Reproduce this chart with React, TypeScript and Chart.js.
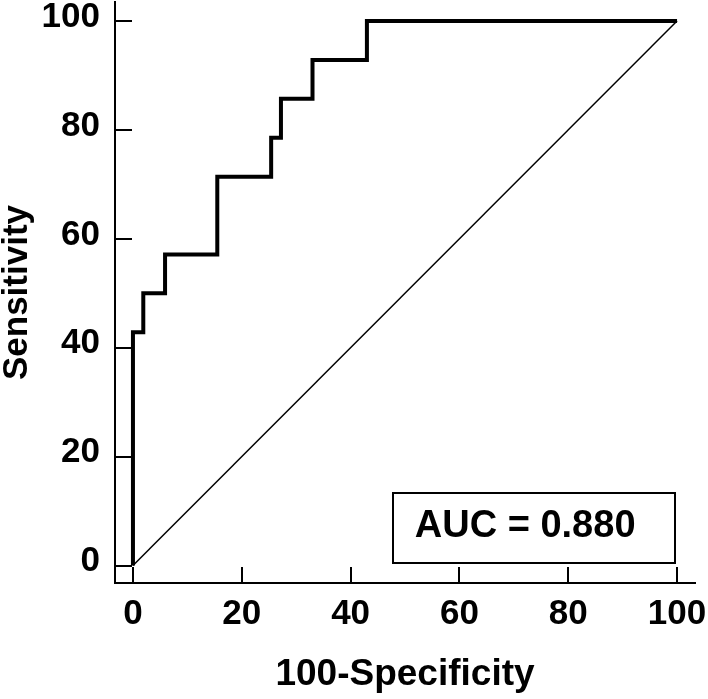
import React, { useEffect, useRef } from 'react';
import { Chart, registerables } from 'chart.js';

Chart.register(...registerables);

// ROC operating points (100-Specificity, Sensitivity)
const rocFpr = [0, 0, 1.9, 5.9, 15.5, 25.4, 27.2, 33.0, 43.0, 100];
const rocSens = [0, 42.86, 50, 57.14, 71.43, 78.57, 85.71, 92.86, 100, 100];
// reference (chance) line
const refFpr = [0, 100];
const refSens = [0, 100];
const tickValues = [0, 20, 40, 60, 80, 100];
const xTitle = '100-Specificity';
const yTitle = 'Sensitivity';
const aucLabel = 'AUC = 0.880';

const FAMILY = "'Liberation Sans', Arial, Helvetica, sans-serif";

const innerTicks = {
  id: 'innerTicks',
  beforeDatasetsDraw(chart: any) {
    const { ctx, scales, chartArea } = chart;
    ctx.save();
    ctx.strokeStyle = '#000';
    ctx.lineWidth = 2;
    ctx.lineCap = 'butt';
    ctx.beginPath();
    tickValues.forEach((v) => {
      const px = Math.round(scales.x.getPixelForValue(v));
      ctx.moveTo(px, chartArea.bottom);
      ctx.lineTo(px, chartArea.bottom - 16);
      const py = Math.round(scales.y.getPixelForValue(v));
      ctx.moveTo(chartArea.left, py);
      ctx.lineTo(chartArea.left + 17, py);
    });
    ctx.stroke();
    ctx.restore();
  },
};

const aucBoxPlugin = {
  id: 'aucBox',
  afterDatasetsDraw(chart: any, _args: any, opts: any) {
    const { ctx, scales } = chart;
    const x1 = Math.round(scales.x.getPixelForValue(opts.x0));
    const x2 = Math.round(scales.x.getPixelForValue(opts.x1));
    const y1 = Math.round(scales.y.getPixelForValue(opts.y1));
    const y2 = Math.round(scales.y.getPixelForValue(opts.y0));
    ctx.save();
    ctx.fillStyle = '#fff';
    ctx.fillRect(x1, y1, x2 - x1, y2 - y1);
    ctx.strokeStyle = '#000';
    ctx.lineWidth = 2;
    ctx.strokeRect(x1, y1, x2 - x1, y2 - y1);
    ctx.fillStyle = '#000';
    ctx.font = `bold ${opts.size}px ${FAMILY}`;
    ctx.textAlign = 'left';
    ctx.textBaseline = 'alphabetic';
    ctx.fillText(opts.text, scales.x.getPixelForValue(opts.tx), scales.y.getPixelForValue(opts.ty));
    ctx.restore();
  },
};

const noPad = (s: any) => {
  s.paddingLeft = 0;
  s.paddingRight = 0;
  s.paddingTop = 0;
  s.paddingBottom = 0;
};

export default function App() {
  const canvasRef = useRef<HTMLCanvasElement | null>(null);

  useEffect(() => {
    if (!canvasRef.current) return;
    const rocData = rocFpr.map((x, i) => ({ x, y: rocSens[i] }));
    const refData = refFpr.map((x, i) => ({ x, y: refSens[i] }));
    const tickFont = { family: FAMILY, size: 35, weight: 'bold' as const };
    const chart = new Chart(canvasRef.current, {
      type: 'line',
      data: {
        datasets: [
          {
            label: 'Reference',
            data: refData,
            borderColor: '#000',
            borderWidth: 1.5,
            pointRadius: 0,
            fill: false,
            tension: 0,
          },
          {
            label: 'ROC',
            data: rocData,
            borderColor: '#000',
            borderWidth: 4,
            pointRadius: 0,
            fill: false,
            stepped: 'before',
            borderJoinStyle: 'miter',
            borderCapStyle: 'butt',
          },
        ],
      },
      options: {
        animation: false,
        responsive: false,
        maintainAspectRatio: false,
        layout: { padding: { left: 0, top: 2, right: 13, bottom: 0 } },
        plugins: {
          legend: { display: false },
          tooltip: { enabled: false },
          aucBox: { x0: 47.8, x1: 99.6, y0: 0.55, y1: 13.4, tx: 51.8, ty: 5.3, size: 38, text: aucLabel },
        } as any,
        scales: {
          x: {
            type: 'linear',
            min: -3.3,
            max: 103.3,
            afterBuildTicks: (s: any) => {
              s.ticks = tickValues.map((v) => ({ value: v }));
            },
            afterFit: (s: any) => {
              s.height = 116;
              noPad(s);
            },
            grid: { display: false, drawTicks: false },
            border: { display: true, color: '#000', width: 2 },
            ticks: { color: '#000', padding: 10, font: tickFont, maxRotation: 0, autoSkip: false },
            title: {
              display: true,
              text: xTitle,
              color: '#000',
              font: { family: FAMILY, size: 37, weight: 'bold', lineHeight: 1 },
              padding: { top: 0, bottom: 6 },
            },
          },
          y: {
            type: 'linear',
            min: -3.2,
            max: 103.5,
            afterBuildTicks: (s: any) => {
              s.ticks = tickValues.map((v) => ({ value: v }));
            },
            afterFit: (s: any) => {
              s.width = 115;
              noPad(s);
            },
            grid: { display: false, drawTicks: false },
            border: { display: true, color: '#000', width: 2 },
            ticks: { color: '#000', padding: 15, labelOffset: -4, font: tickFont, autoSkip: false },
            title: {
              display: true,
              text: yTitle,
              color: '#000',
              font: { family: FAMILY, size: 35, weight: 'bold', lineHeight: 1 },
              padding: { top: 0, bottom: 0 },
            },
          },
        },
      } as any,
      plugins: [innerTicks, aucBoxPlugin],
    });
    return () => chart.destroy();
  }, []);

  return (
    <div style={{ position: 'fixed', left: 0, top: 0, width: 708, height: 699, background: '#fff' }}>
      <canvas ref={canvasRef} width={708} height={699} style={{ display: 'block' }} />
    </div>
  );
}
